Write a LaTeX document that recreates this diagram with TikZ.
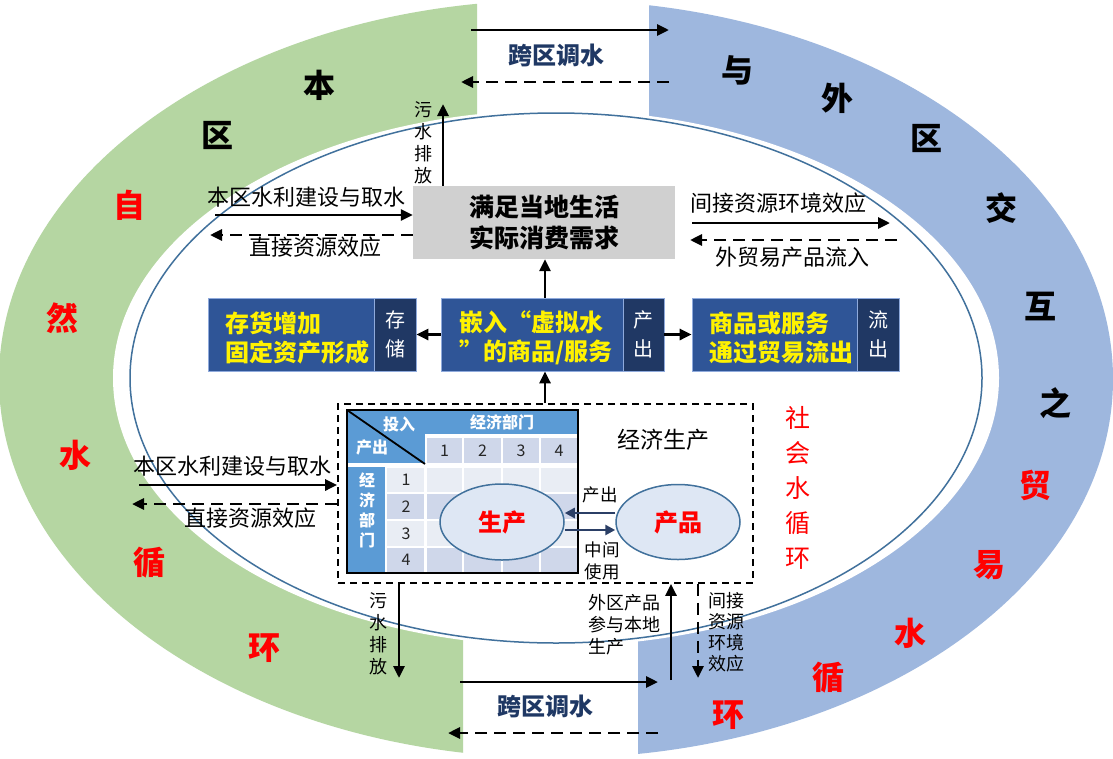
\documentclass[tikz,border=0pt]{standalone}
\usepackage{fontspec}
\setmainfont{Noto Sans CJK SC}
\usetikzlibrary{arrows.meta,shapes.geometric}
\definecolor{ringgreen}{HTML}{B5D6A2}
\definecolor{ringblue}{HTML}{9EB7DE}
\definecolor{ellline}{HTML}{41719C}
\definecolor{navytext}{HTML}{1F3864}
\definecolor{boxmain}{HTML}{2F5597}
\definecolor{boxtab}{HTML}{203864}
\definecolor{boxedge}{HTML}{8FAADC}
\definecolor{hdr}{HTML}{5B9BD5}
\definecolor{clight}{HTML}{E9EDF4}
\definecolor{cdark}{HTML}{CFD7EA}
\definecolor{ellfill}{HTML}{DEE7F4}
\definecolor{grayfill}{HTML}{D0D0D0}
\definecolor{navyarrow}{HTML}{2B3F66}
\begin{document}
\begin{tikzpicture}[x=1pt,y=-1pt,
  arr/.style={line width=2.9pt,-{Triangle[length=12pt,width=11pt]}},
  darr/.style={arr,dash pattern=on 12pt off 7pt},
  narr/.style={line width=2.6pt,draw=navyarrow,-{Triangle[length=10pt,width=10pt]}},
  ringk/.style={font=\fontsize{32}{32}\selectfont\bfseries,text=black,inner sep=0pt},
  ringr/.style={font=\fontsize{32}{32}\selectfont\bfseries,text=red,inner sep=0pt},
  lab/.style={font=\fontsize{22}{26}\selectfont,inner sep=0pt},
  slab/.style={font=\fontsize{18}{22}\selectfont,inner sep=0pt,align=center},
  navylab/.style={font=\fontsize{24}{28}\selectfont\bfseries,text=navytext,inner sep=0pt},
  graybox/.style={fill=grayfill,inner sep=0pt,align=center,font=\fontsize{25}{31}\selectfont\bfseries},
  bmain/.style={fill=boxmain,draw=boxedge,line width=0.8pt,inner sep=0pt,minimum height=73pt},
  btab/.style={fill=boxtab,draw=boxedge,line width=0.8pt,inner sep=0pt,minimum height=73pt,align=center,text=white,font=\fontsize{20}{29}\selectfont},
  ytext/.style={text=yellow,align=left,inner sep=0pt,font=\fontsize{24}{29}\selectfont\bfseries},
  dbox/.style={draw=black,line width=1.8pt,dash pattern=on 7pt off 5pt,inner sep=0pt},
  tabtext/.style={font=\fontsize{16}{20}\selectfont\bfseries,text=white,inner sep=0pt,align=center},
  tabnum/.style={font=\fontsize{16}{20}\selectfont,text=black!85,inner sep=0pt},
  ell/.style={ellipse,draw=ellline,line width=1.5pt,fill=ellfill,inner sep=0pt,text=red,font=\fontsize{24}{28}\selectfont\bfseries},
  redv/.style={font=\fontsize{25}{35}\selectfont,text=red,align=center,inner sep=0pt}
]
\fill[white] (0,0) rectangle (1113,758);
\useasboundingbox (0,0) rectangle (1113,758);
% ---- outer ring
\begin{scope}
\clip (0,0) -- (477,0) -- (477,378) -- (463,378) -- (463,758) -- (0,758) -- cycle;
\fill[ringgreen] (556,379) ellipse [x radius=557pt, y radius=379pt];
\end{scope}
\begin{scope}
\clip (649,0) -- (1113,0) -- (1113,758) -- (638,758) -- (638,378) -- (649,378) -- cycle;
\fill[ringblue] (556,379) ellipse [x radius=557pt, y radius=379pt];
\end{scope}
\fill[white] (556,378) ellipse [x radius=443pt, y radius=268pt];
\draw[ellline,line width=1.5pt,fill=white] (556,378) ellipse [x radius=426pt, y radius=265pt];
% ---- ring labels
\node[ringk] (r1) at (319,85) {本};
\node[ringk] (r2) at (217,135) {区};
\node[ringr] (r3) at (129,205) {自};
\node[ringr] (r4) at (62,318) {然};
\node[ringr] (r5) at (75,455) {水};
\node[ringr] (r6) at (149,563) {循};
\node[ringr] (r7) at (264,648) {环};
\node[ringk] (r8) at (737,70) {与};
\node[ringk] (r9) at (837,98) {外};
\node[ringk] (r10) at (926,138) {区};
\node[ringk] (r11) at (1001,208) {交};
\node[ringk] (r12) at (1040,307) {互};
\node[ringk] (r13) at (1055,403) {之};
\node[ringr] (r14) at (1035,485) {贸};
\node[ringr] (r15) at (989,565) {易};
\node[ringr] (r16) at (910,633) {水};
\node[ringr] (r17) at (828,678) {循};
\node[ringr] (r18) at (728,715) {环};
\node[redv] (social) at (798,488) {社\\会\\水\\循\\环};
% ---- top cross-region transfer
\coordinate (tA) at (471,30);
\coordinate (tB) at (669,30);
\coordinate (tC) at (669,82);
\coordinate (tD) at (461,82);
\draw[arr] (tA) -- (tB);
\draw[darr] (tC) -- (tD);
\node[navylab] (toplab) at (556,55) {跨区调水};
% ---- consumption box
\node[graybox,minimum width=262pt,minimum height=73pt] (need) at (544,222.5) {满足当地生活\\实际消费需求};
\coordinate (wTop) at (443,104);
\draw[arr] (need.north -| wTop) -- (wTop);
\node[slab] (wlab1) at (423,143) {污\\水\\排\\放};
\coordinate (l1) at (215,215);
\coordinate (l2) at (210,235);
\draw[arr] (l1) -- (l1 -| need.west);
\draw[darr] (l2 -| need.west) -- (l2);
\node[lab] (l1lab) at (306,197) {本区水利建设与取水};
\node[lab] (l2lab) at (315,247) {直接资源效应};
\coordinate (q1a) at (692,223);
\coordinate (q1b) at (890,223);
\coordinate (q2a) at (897,240);
\coordinate (q2b) at (690,240);
\draw[arr] (q1a) -- (q1b);
\draw[darr] (q2a) -- (q2b);
\node[lab] (q1lab) at (778,203) {间接资源环境效应};
\node[lab] (q2lab) at (792,257) {外贸易产品流入};
% ---- blue boxes
\node[bmain,minimum width=166pt] (sL) at (291,334.5) {};
\node[btab,minimum width=42pt] (sLtab) at (395,334.5) {存\\储};
\node[ytext,anchor=west] (sLt) at (225,337.5) {存货增加\\固定资产形成};
\node[bmain,minimum width=182pt] (sM) at (532,334.5) {};
\node[btab,minimum width=41pt] (sMtab) at (643.5,334.5) {产\\出};
\node[ytext,anchor=west] (sMt) at (459,337.5) {嵌入“虚拟水\\”的商品/服务};
\node[bmain,minimum width=165pt] (sR) at (774.5,334.5) {};
\node[btab,minimum width=42pt] (sRtab) at (878,334.5) {流\\出};
\node[ytext,anchor=west] (sRt) at (709,337.5) {商品或服务\\通过贸易流出};
\coordinate (upx) at (545,0);
\draw[arr] (sM.west) -- (sLtab.east);
\draw[arr] (sMtab.east) -- (sR.west);
\draw[arr] (sM.north -| upx) -- (need.south -| upx);
% ---- economic production box
\node[dbox,minimum width=415pt,minimum height=179pt] (econ) at (545.5,493.5) {};
\draw[arr] (econ.north -| upx) -- (sM.south -| upx);
\node[font=\fontsize{23}{27}\selectfont,inner sep=0pt] (econlab) at (663,440) {经济生产};
% table
\fill[white] (347,410) rectangle (578,573);
\fill[hdr] (347,410) rectangle (425,463);
\fill[hdr] (425,410) rectangle (578,434);
\fill[hdr] (347,467) rectangle (385,573);
\foreach \xa/\xb in {426/463,463/502,502/540,540/578}{
  \fill[cdark] (\xa+1,438) rectangle (\xb-1,463);
}
\foreach \ya/\yb/\cc in {467/493/clight,493/520/cdark,520/547/clight,547/573/cdark}{
  \fill[\cc] (387,\ya+1) rectangle (424,\yb-1);
  \foreach \xa/\xb in {426/463,463/502,502/540,540/578}{
    \fill[\cc] (\xa+1,\ya+1) rectangle (\xb-1,\yb-1);
  }
}
\draw[line width=1.8pt] (347,410) -- (425,464);
\draw[line width=2.5pt] (347,410) rectangle (578,573);
\node[tabtext] (tin) at (399,424) {投入};
\node[tabtext] (tout) at (372,447) {产出};
\node[tabtext] (tsec) at (502,422) {经济部门};
\node[tabtext,font=\fontsize{16}{20}\selectfont\bfseries] (tsecv) at (367,510) {经\\济\\部\\门};
\node[tabnum] (c1) at (444.5,451) {1};
\node[tabnum] (c2) at (482.5,451) {2};
\node[tabnum] (c3) at (521,451) {3};
\node[tabnum] (c4) at (559,451) {4};
\node[tabnum] (w1) at (406,480) {1};
\node[tabnum] (w2) at (406,506.5) {2};
\node[tabnum] (w3) at (406,533.5) {3};
\node[tabnum] (w4) at (406,560) {4};
\node[ell,minimum width=124pt,minimum height=76pt] (prod) at (502,522) {生产};
\node[ell,minimum width=124pt,minimum height=75pt] (goods) at (678,522) {产品};
\draw[narr] ([yshift=9pt]goods.west) -- ([yshift=9pt]prod.east);
\draw[narr] ([yshift=-8pt]prod.east) -- ([yshift=-8pt]goods.west);
\node[slab,font=\fontsize{17.5}{22}\selectfont] (outlab) at (600,495) {产出};
\node[slab,font=\fontsize{17.5}{22}\selectfont] (midlab) at (602,561) {中间\\使用};
% left arrows of econ box
\coordinate (e1) at (139,485);
\coordinate (e2) at (132,504);
\draw[arr] (e1) -- (e1 -| econ.west);
\draw[darr] (e2 -| econ.west) -- (e2);
\node[lab] (e1lab) at (232,466) {本区水利建设与取水};
\node[lab] (e2lab) at (250,518) {直接资源效应};
% bottom arrows of econ box
\coordinate (b1) at (399,678);
\coordinate (b2) at (671,680);
\coordinate (b3) at (698,678);
\draw[arr] (econ.south -| b1) -- (b1);
\draw[arr] (b2) -- (econ.south -| b2);
\draw[darr] (econ.south -| b3) -- (b3);
\node[slab] (wlab2) at (378,634) {污\\水\\排\\放};
\node[slab,align=left,anchor=west] (blab2) at (588,625) {外区产品\\参与本地\\生产};
\node[slab,align=left,anchor=west,font=\fontsize{18}{21}\selectfont] (blab3) at (708,632) {间接\\资源\\环境\\效应};
% bottom cross-region transfer
\coordinate (c1a) at (460,682);
\coordinate (c1b) at (658,682);
\coordinate (c2a) at (658,733);
\coordinate (c2b) at (448,733);
\draw[arr] (c1a) -- (c1b);
\draw[darr] (c2a) -- (c2b);
\node[navylab] (botlab) at (545,706) {跨区调水};
\end{tikzpicture}
\end{document}
